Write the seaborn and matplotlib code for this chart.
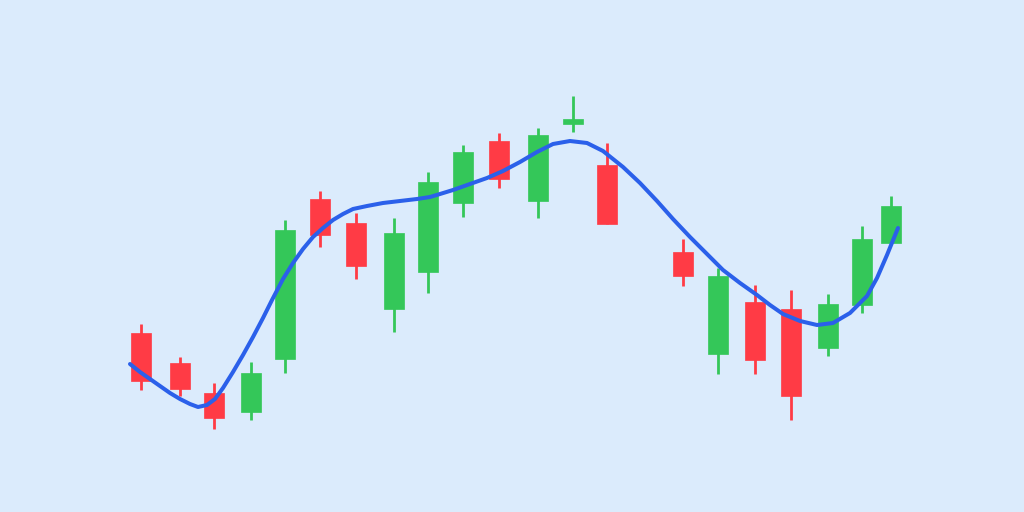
import seaborn as sns
import matplotlib.pyplot as plt
import pandas as pd

# Candle centres (x) and prices (higher = further up the chart)
candle_x = [141, 179.5, 214, 251, 285, 320, 356, 394, 428, 463, 499,
            538, 573, 607, 683, 718, 755, 791, 828, 862, 891]
open_px = [179, 149, 119, 100, 153, 313, 289, 203, 240, 309, 371,
           311, 388, 347, 260, 158, 210, 203, 164, 207, 269]
close_px = [131, 123, 94, 139, 282, 277, 246, 279, 330, 360, 333,
            377, 393, 288, 236, 236, 152, 116, 208, 273, 306]
high_px = [188, 155, 129, 150, 292, 321, 299, 294, 340, 367, 379,
           384, 416, 369, 273, 244, 227, 222, 218, 286, 316]
low_px = [122, 116, 83, 92, 139, 265, 233, 180, 219, 295, 324,
          294, 380, 288, 226, 138, 138, 92, 156, 199, 269]

# Smoothed trend line
trend_x = [130, 140, 150, 160, 170, 180, 190, 198, 207, 215, 223, 233,
           243, 253, 263, 272, 283, 293, 303, 313, 323, 333, 343, 353,
           367, 383, 400, 417, 430, 440, 453, 470, 487, 503, 520, 537,
           553, 570, 587, 603, 623, 640, 657, 673, 690, 707, 723, 740,
           757, 770, 783, 800, 817, 833, 850, 867, 877, 887, 898]
trend_y = [148, 140, 133, 126, 119, 113, 108, 105, 107, 113, 124, 140,
           157, 175, 194, 212, 233, 249, 263, 275, 284, 292, 298, 303,
           306, 309, 311, 313, 315, 318, 322, 328, 334, 341, 350, 360,
           368, 371, 369, 361, 345, 329, 311, 293, 275, 258, 242, 229,
           217, 207, 198, 191, 187, 189, 199, 216, 234, 257, 284]

df = pd.DataFrame({'x': candle_x, 'open': open_px, 'close': close_px,
                   'high': high_px, 'low': low_px})
df['up'] = df['close'] >= df['open']
trend = pd.DataFrame({'x': trend_x, 'y': trend_y})

bg = '#DBEBFC'
green = '#34C759'
red = '#FF3B45'
blue = '#2B60EA'

sns.set_style('white')
fig = plt.figure(figsize=(10.24, 5.12), dpi=100, facecolor=bg)
ax = fig.add_axes([0, 0, 1, 1])
ax.set_facecolor(bg)

colors = [green if u else red for u in df['up']]
bottoms = df[['open', 'close']].min(axis=1)
heights = (df['close'] - df['open']).abs()

ax.vlines(df['x'], df['low'], df['high'], colors=colors, linewidth=2, zorder=2)
ax.bar(df['x'], heights, bottom=bottoms, width=20, color=colors,
       edgecolor=colors, linewidth=0.5, zorder=3)

sns.lineplot(data=trend, x='x', y='y', ax=ax, color=blue, linewidth=2.9,
             sort=False, zorder=4, solid_capstyle='round',
             solid_joinstyle='round')

ax.set_xlim(0, 1024)
ax.set_ylim(0, 512)
ax.axis('off')

plt.savefig('out.png', dpi=100, facecolor=bg)
